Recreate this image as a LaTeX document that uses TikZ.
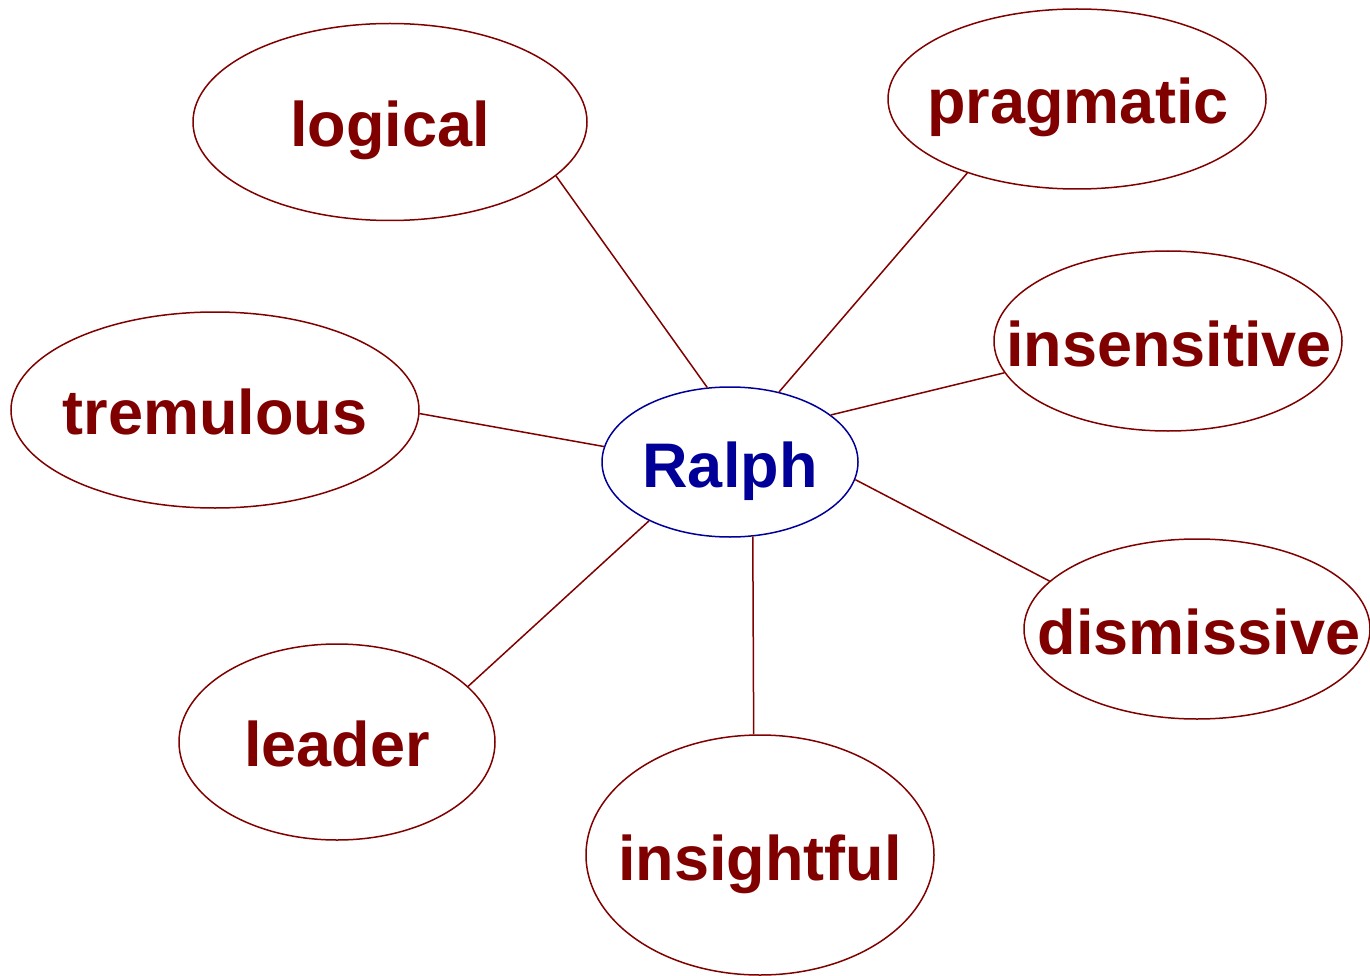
\documentclass[tikz,border=0pt]{standalone}
\usepackage{fontspec}
\setmainfont{Liberation Sans}
\usetikzlibrary{shapes.geometric}
\definecolor{maroon}{HTML}{800000}
\definecolor{navy}{HTML}{000099}
\tikzset{
  bubble/.style 2 args={ellipse, draw=maroon, line width=1.5pt, inner sep=0pt,
    minimum width=#1pt, minimum height=#2pt},
  word/.style={text=maroon, font=\fontsize{63}{70}\selectfont\bfseries, inner sep=0pt, anchor=base},
  link/.style={draw=maroon, line width=1.5pt}
}
\begin{document}
\begin{tikzpicture}[x=1pt,y=-1pt]
\useasboundingbox (0,0) rectangle (1370,976);
% central node
\node[ellipse, draw=navy, line width=1.5pt, inner sep=0pt, minimum width=256pt, minimum height=150pt] (ralph) at (730,462) {};
\node[word, text=navy] (ralphtext) at (730,487) {Ralph};
% surrounding traits
\node[bubble={394}{197}]  (logical)     at (390,122) {};
\node[bubble={378}{180}]  (pragmatic)   at (1077,99) {};
\node[bubble={348}{180}]  (insensitive) at (1168,341) {};
\node[bubble={408}{196}]  (tremulous)   at (215,410) {};
\node[bubble={346}{180}]  (dismissive)  at (1197,629) {};
\node[bubble={316}{196}]  (leader)      at (337,742) {};
\node[bubble={348}{240}]  (insightful)  at (760,855) {};
% their words
\node[word] (logicaltext)     at (390,147)  {logical};
\node[word] (pragmatictext)   at (1078,124) {pragmatic};
\node[word] (insensitivetext) at (1169,366) {insensitive};
\node[word] (tremuloustext)   at (215,434)  {tremulous};
\node[word] (dismissivetext)  at (1199,654) {dismissive};
\node[word] (leadertext)      at (337,766)  {leader};
\node[word] (insightfultext)  at (760,880)  {insightful};
% spokes
\draw[link] (logical.-18)     -- (ralph.107);
\draw[link] (pragmatic.214)   -- (ralph.55);
\draw[link] (insensitive.191) -- (ralph.25);
\draw[link] (tremulous.-1)    -- (ralph.173);
\draw[link] (dismissive.162)  -- (ralph.-8);
\draw[link] (leader.23)       -- (ralph.216);
\draw[link] (insightful.93)   -- (ralph.-73);
\end{tikzpicture}
\end{document}
